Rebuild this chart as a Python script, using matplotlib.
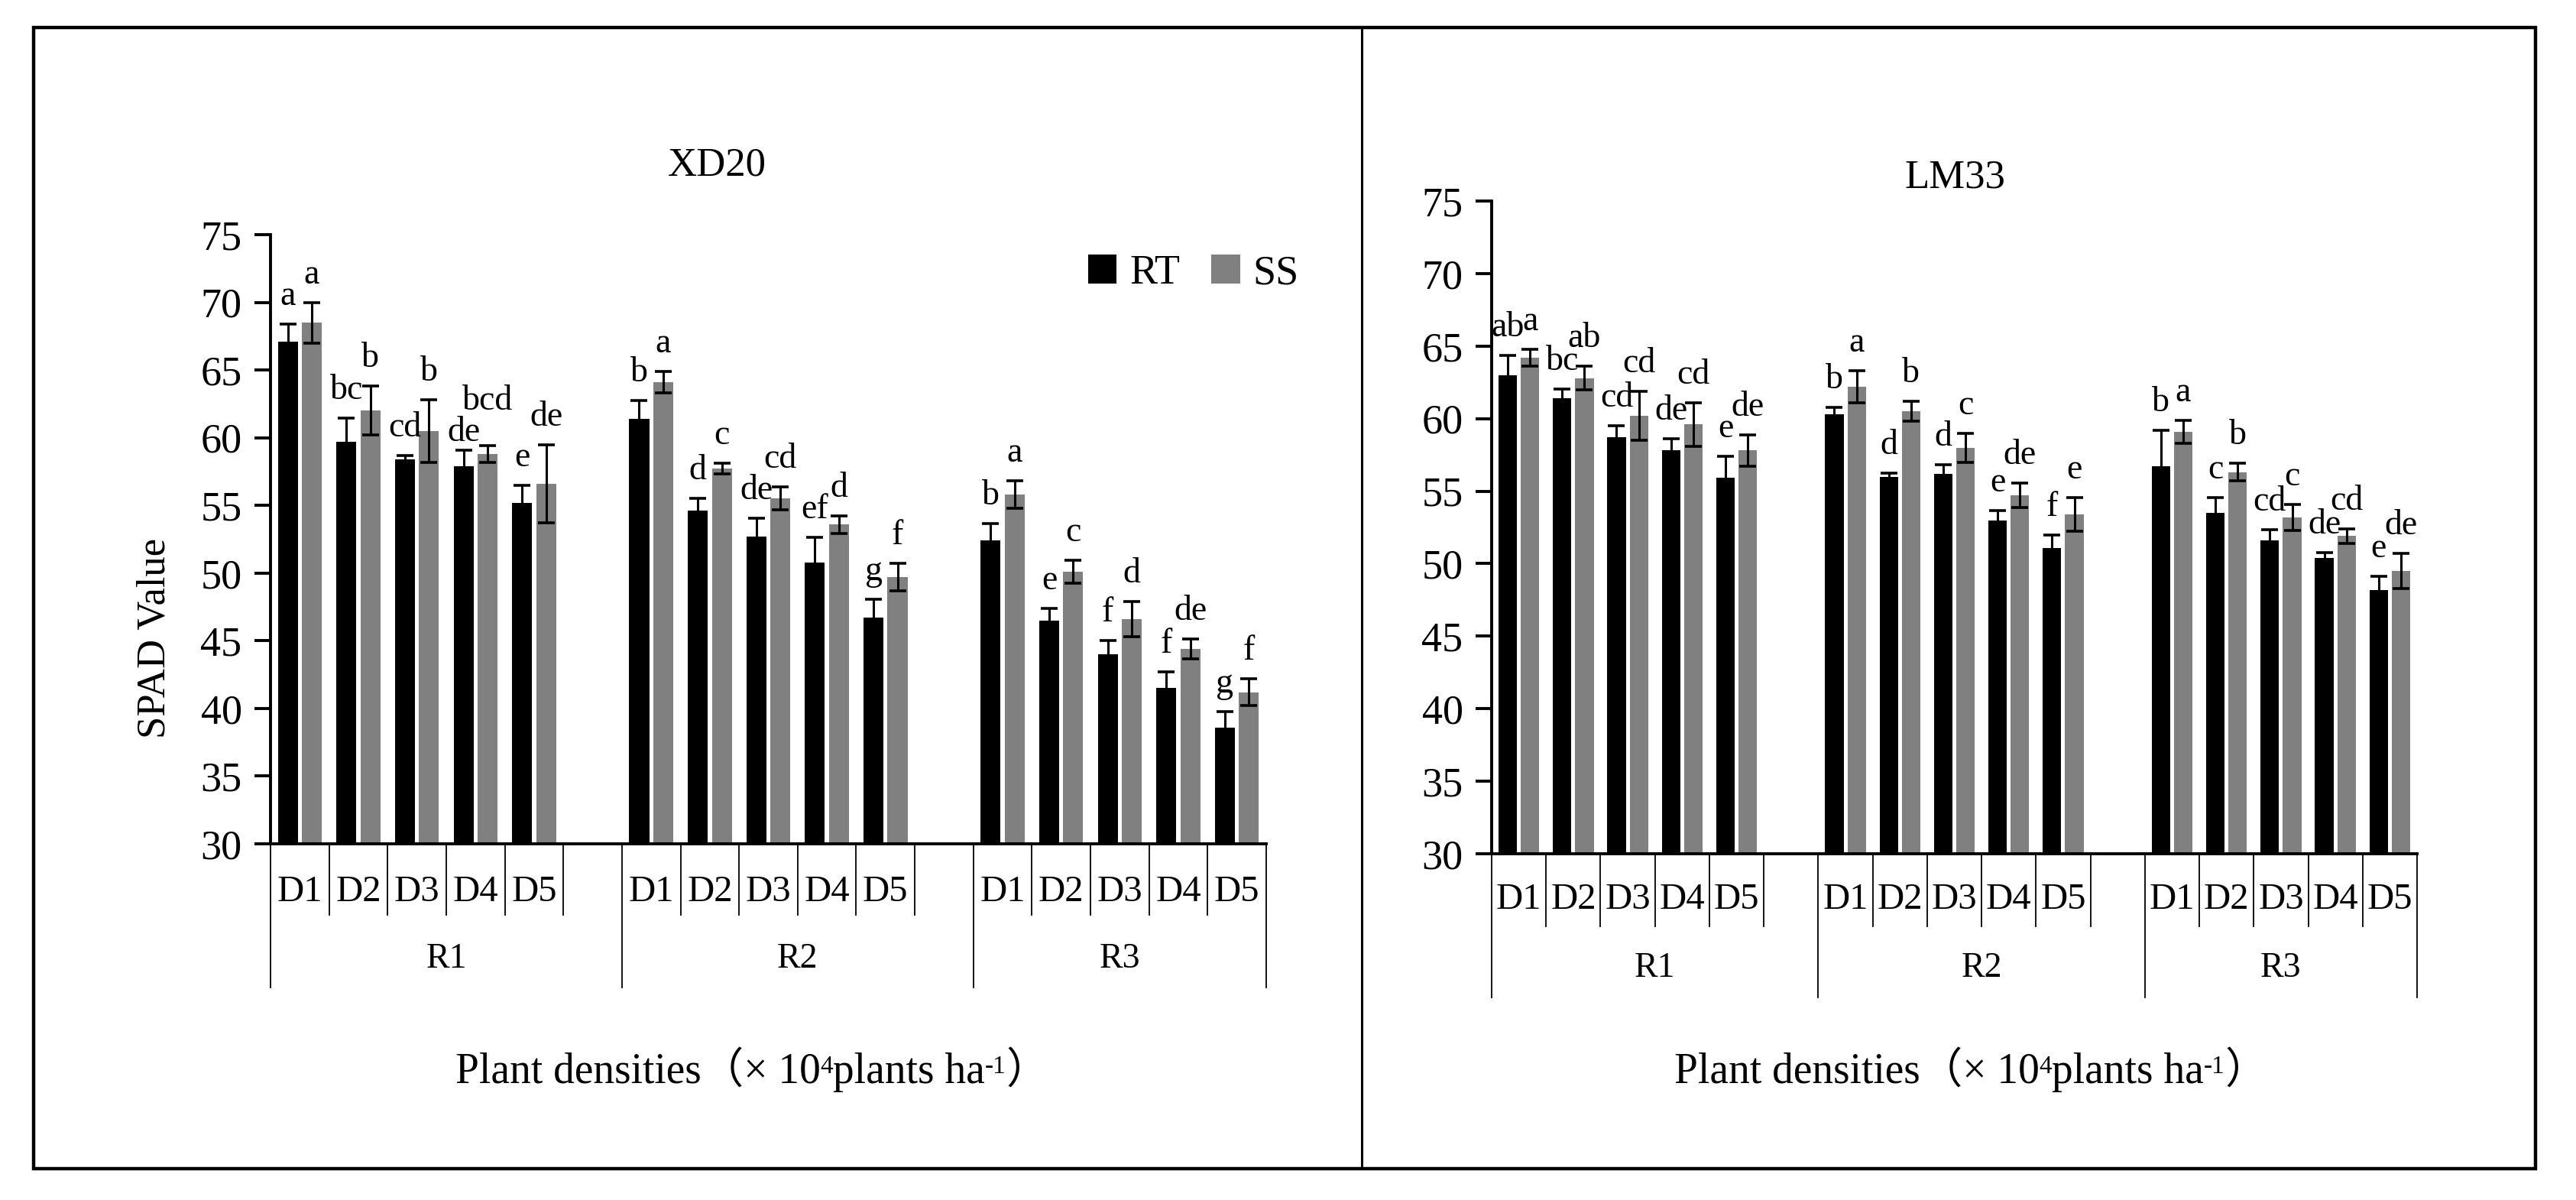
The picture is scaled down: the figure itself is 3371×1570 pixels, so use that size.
import matplotlib
matplotlib.use("Agg")
import matplotlib.pyplot as plt
from matplotlib.patches import Rectangle
from matplotlib.lines import Line2D
from matplotlib.transforms import blended_transform_factory
import numpy as np

plt.rcParams['font.family'] = ['Liberation Serif', 'Noto Sans CJK SC']

# ---------------- data ----------------
densities = ["D1", "D2", "D3", "D4", "D5"]
rotations = ["R1", "R2", "R3"]
series_names = ["RT", "SS"]
yticks = [30, 35, 40, 45, 50, 55, 60, 65, 70, 75]

# XD20 (order: R1 D1-D5, R2 D1-D5, R3 D1-D5)
xd20_rt = [67.1, 59.7, 58.4, 57.9, 55.2, 61.4, 54.6, 52.7, 50.8, 46.7, 52.4, 46.5, 44.0, 41.5, 38.6]
xd20_rt_err = [1.3, 1.75, 0.3, 1.2, 1.3, 1.35, 0.9, 1.35, 1.85, 1.35, 1.25, 0.9, 1.0, 1.2, 1.15]
xd20_ss = [68.5, 62.0, 60.5, 58.8, 56.6, 64.1, 57.7, 55.5, 53.6, 49.7, 55.8, 50.1, 46.6, 44.4, 41.2]
xd20_ss_err = [1.5, 1.8, 2.3, 0.6, 2.9, 0.8, 0.4, 0.85, 0.65, 1.0, 1.0, 0.85, 1.3, 0.75, 1.0]
xd20_rt_letters = ["a", "bc", "cd", "de", "e", "b", "d", "de", "ef", "g", "b", "e", "f", "f", "g"]
xd20_ss_letters = ["a", "b", "b", "bcd", "de", "a", "c", "cd", "d", "f", "a", "c", "d", "de", "f"]

# LM33
lm33_rt = [63.0, 61.4, 58.7, 57.8, 55.9, 60.3, 56.0, 56.2, 53.0, 51.1, 56.7, 53.5, 51.6, 50.4, 48.2]
lm33_rt_err = [1.35, 0.65, 0.8, 0.8, 1.5, 0.45, 0.25, 0.6, 0.65, 0.85, 2.5, 1.05, 0.75, 0.35, 0.95]
lm33_ss = [64.2, 62.8, 60.2, 59.6, 57.8, 62.2, 60.5, 58.0, 54.7, 53.4, 59.1, 56.3, 53.2, 51.9, 49.5]
lm33_ss_err = [0.6, 0.8, 1.7, 1.5, 1.1, 1.1, 0.7, 1.0, 0.85, 1.15, 0.8, 0.6, 0.9, 0.5, 1.2]
lm33_rt_letters = ["ab", "bc", "cd", "de", "e", "b", "d", "d", "e", "f", "b", "c", "cd", "de", "e"]
lm33_ss_letters = ["a", "ab", "cd", "cd", "de", "a", "b", "c", "de", "e", "a", "b", "c", "cd", "de"]

# ---------------- styling ----------------
W, H = 3371, 1570
RT_COLOR = "#000000"
SS_COLOR = "#808080"
LABEL_OFFSET_PT = 18
# extra vertical nudges (points) for letter labels that would collide: (series index, bar index) -> pt
XD20_NUDGE = {(0, 3): -10, (1, 3): 16}
LM33_NUDGE = {}

fig = plt.figure(figsize=(W / 100, H / 100), dpi=100)


def px_axes(l, r, b, t):
    return fig.add_axes([l / W, 1 - b / H, (r - l) / W, (b - t) / H])


def draw_panel(ax, ax_h_px, rt, rt_err, ss, ss_err, rt_let, ss_let,
               d_off, r_off, short_len, long_len, nudge):
    pos = np.array([g * 6 + d for g in range(len(rotations)) for d in range(len(densities))], dtype=float)
    w = 0.34
    off = 0.205
    b1 = ax.bar(pos - off, rt, w, color=RT_COLOR, linewidth=0, zorder=2, label=series_names[0])
    b2 = ax.bar(pos + off, ss, w, color=SS_COLOR, linewidth=0, zorder=2, label=series_names[1])
    for xs, vals, errs in ((pos - off, rt, rt_err), (pos + off, ss, ss_err)):
        ax.errorbar(xs, vals, yerr=errs, fmt='none', ecolor='black', elinewidth=2.2,
                    capsize=8, capthick=2.6, zorder=3)
    for si, (xs, vals, errs, lets) in enumerate(((pos - off, rt, rt_err, rt_let),
                                                 (pos + off, ss, ss_err, ss_let))):
        for bi, (xi, v, e, s) in enumerate(zip(xs, vals, errs, lets)):
            dy = LABEL_OFFSET_PT + nudge.get((si, bi), 0)
            ax.annotate(s, (xi, v + e), xytext=(0, dy), textcoords='offset points',
                        ha='center', va='baseline', fontsize=33, zorder=4, annotation_clip=False)

    ax.set_xlim(-0.5, 16.5)
    ax.set_ylim(30, 75)
    ax.set_yticks(yticks)
    ax.set_xticks([])
    for sp in ("top", "right"):
        ax.spines[sp].set_visible(False)
    for sp in ("left", "bottom"):
        ax.spines[sp].set_linewidth(2.8)
        ax.spines[sp].set_color("black")
    ax.tick_params(axis='y', direction='out', length=15, width=2.8, pad=12, labelsize=39)

    trans = blended_transform_factory(ax.transData, ax.transAxes)
    for k in range(18):
        xb = k - 0.5
        ln = long_len if k in (0, 6, 12, 17) else short_len
        ax.add_line(Line2D([xb, xb], [0, -ln / ax_h_px], transform=trans, color='black',
                           lw=1.3, clip_on=False))
    for p, dl in zip(pos, densities * len(rotations)):
        ax.text(p, -d_off / ax_h_px, dl, transform=trans, ha='center', va='center', fontsize=35)
    for c, rl in zip([2.5, 8.5, 14.0], rotations):
        ax.text(c, -r_off / ax_h_px, rl, transform=trans, ha='center', va='center', fontsize=33)
    return b1, b2


ax1 = px_axes(354, 1657, 1104, 307)
h1, h2 = draw_panel(ax1, 1104 - 307, xd20_rt, xd20_rt_err, xd20_ss, xd20_ss_err,
                    xd20_rt_letters, xd20_ss_letters, 63, 151, 93, 188, XD20_NUDGE)
ax2 = px_axes(1952, 3163, 1117, 263)
draw_panel(ax2, 1117 - 263, lm33_rt, lm33_rt_err, lm33_ss, lm33_ss_err,
           lm33_rt_letters, lm33_ss_letters, 60, 150, 95, 188, LM33_NUDGE)

# titles
fig.text(938 / W, 1 - 217 / H, "XD20", ha='center', va='center', fontsize=38)
fig.text(2558 / W, 1 - 232 / H, "LM33", ha='center', va='center', fontsize=38)

# y label
fig.text(202 / W, 1 - 835 / H, "SPAD Value", rotation=90, ha='center', va='center', fontsize=38)

# legend
fig.legend([h1, h2], series_names, loc='center left', bbox_to_anchor=(1424 / W, 1 - 358 / H),
           ncol=2, frameon=False, fontsize=39, handlelength=0.69, handleheight=0.69,
           handletextpad=0.31, columnspacing=0.76, borderpad=0, borderaxespad=0)


# composite x-axis label with superscripts
def composite_label(cx_px, baseline_px, fs):
    pieces = [("Plant densities（× 10", fs, 0.0), ("4", fs * 0.6, 0.40),
              ("plants ha", fs, 0.0), ("-1", fs * 0.6, 0.40), ("）", fs, 0.0)]
    renderer = fig.canvas.get_renderer()
    texts, widths = [], []
    for s, size, rise in pieces:
        t = fig.text(0, 0, s, fontsize=size, ha='left', va='baseline')
        widths.append(t.get_window_extent(renderer).width)
        texts.append((t, rise * size * 100 / 72))
    total = sum(widths)
    x = cx_px - total / 2
    for (t, rise), wd in zip(texts, widths):
        t.set_position((x / W, 1 - (baseline_px - rise) / H))
        x += wd


composite_label(984, 1417, 40)
composite_label(2579, 1417, 40)

# outer frame and divider
fig.add_artist(Rectangle((44 / W, 1 - 1529 / H), (3318 - 44) / W, (1529 - 36) / H,
                         transform=fig.transFigure, fill=False, lw=3.2, ec='black'))
fig.add_artist(Line2D([1782 / W, 1782 / W], [1 - 1529 / H, 1 - 36 / H],
                      transform=fig.transFigure, color='black', lw=2.2))

fig.savefig("out.png", dpi=100, facecolor='white')
